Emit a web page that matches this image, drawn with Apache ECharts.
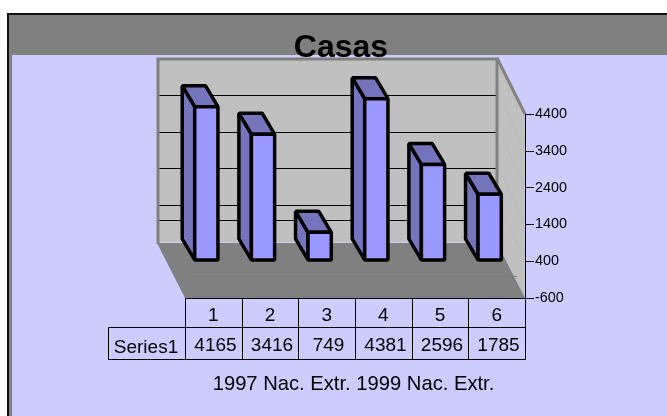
<!DOCTYPE html>
<html>
<head>
<meta charset="utf-8">
<style>html,body{margin:0;padding:0;background:#fff}#c{width:667px;height:416px}</style>
<script src="https://cdn.jsdelivr.net/npm/echarts@6/dist/echarts.min.js"></script>
</head>
<body>
<div id="c"></div>
<script>
const titleText = 'Casas';
const seriesName = 'Series1';
const categories = ['1', '2', '3', '4', '5', '6'];
const values = [4165, 3416, 749, 4381, 2596, 1785];
const tickValues = [-600, 400, 1400, 2400, 3400, 4400];
const wallLineValues = [0, 400, 1400, 2400, 3400];
const footerText = '1997 Nac. Extr. 1999 Nac. Extr.';

const FONT = '"Liberation Sans", Arial, sans-serif';
const DEPTH = [-28, -56];
const BAR_FRONT = [-7, -16];
const BAR_BACK = [-12.5, -21];
const ROW1 = 29, ROW2 = 32, LABEL_W = 77;

const chart = echarts.init(document.getElementById('c'), null, { renderer: 'canvas' });

function poly(points, fill, stroke, lw) {
  return { type: 'polygon', shape: { points },
    style: { fill: fill, stroke: stroke, lineWidth: lw, lineJoin: 'bevel' } };
}
function seg(x1, y1, x2, y2, color, lw) {
  return { type: 'line', shape: { x1, y1, x2, y2 }, style: { stroke: color, lineWidth: lw } };
}

function renderWalls(params, api) {
  if (params.dataIndex !== 0) return null;
  const r = params.coordSys;
  const L = r.x, R = r.x + r.width, T = r.y, B = r.y + r.height;
  const dx = DEPTH[0], dy = DEPTH[1];
  const kids = [];
  kids.push(poly([[L + dx, T + dy], [R + dx, T + dy], [R + dx, B + dy], [L + dx, B + dy]], '#c0c0c0', null, 0));
  kids.push(poly([[R + dx, T + dy], [R, T], [R, B], [R + dx, B + dy]], '#c0c0c0', null, 0));
  wallLineValues.forEach(v => {
    const y = api.coord([0, v])[1];
    kids.push(seg(L + dx + 2, Math.round(y + dy) + 0.5, R + dx - 1, Math.round(y + dy) + 0.5, '#000', 1));
    if (v) kids.push(seg(R + dx + 2, y + dy, R, y, '#bbbbbb', 1));
  });
  kids.push(poly([[L + dx, B + dy + 1], [R + dx, B + dy + 1], [R, B], [L, B]], '#808080', null, 0));
  const y0 = Math.round(api.coord([0, 0])[1]) + 0.5;
  kids.push(seg(L + 1, y0, R - 8, y0, '#7c7c7c', 1));
  // thick grey wall edges
  kids.push({ type: 'polyline', shape: { points: [[L + dx + 1, B + dy + 2], [L + dx + 1, T + dy + 1], [R + dx, T + dy + 1], [R + dx, B + dy]] },
    style: { stroke: '#808080', lineWidth: 3, fill: null } });
  kids.push(seg(R + dx, T + dy, R, T, '#808080', 3));
  return { type: 'group', children: kids };
}

function renderBar(params, api) {
  const i = api.value(0), v = api.value(1);
  const base = api.coord([i, 0]), top = api.coord([i, v]);
  const w = api.size([1, 0])[0] * 0.41;
  const xl = base[0] - w / 2 + BAR_FRONT[0], xr = xl + w;
  const yt = top[1] + BAR_FRONT[1], yb = base[1] + BAR_FRONT[1];
  const bx = BAR_BACK[0], by = BAR_BACK[1];
  return { type: 'group', children: [
    poly([[xl, yt], [xl, yb], [xl + bx, yb + by], [xl + bx, yt + by]], '#7575bd', '#000', 3.5),
    poly([[xl, yt], [xr, yt], [xr + bx, yt + by], [xl + bx, yt + by]], '#7575bd', '#000', 3.5),
    poly([[xl, yt], [xr, yt], [xr, yb], [xl, yb]], '#9999ff', '#000', 3.5)
  ] };
}

function cell(x, y, w, h) {
  return { type: 'rect', shape: { x: x + 0.5, y: y + 0.5, width: w, height: h },
    style: { fill: null, stroke: '#000', lineWidth: 1 } };
}
function renderTable(params, api) {
  const r = params.coordSys;
  const i = api.value(0), v = api.value(1);
  const B = Math.round(r.y + r.height);
  const w = r.width / categories.length;
  const x = Math.round(r.x + i * w), x2 = Math.round(r.x + (i + 1) * w);
  const kids = [cell(x, B, x2 - x, ROW1), cell(x, B + ROW1, x2 - x, ROW2),
    { type: 'text', style: { x: (x + x2) / 2 + 2, y: B + ROW1 + 19, text: String(v), align: 'center',
      verticalAlign: 'middle', fill: '#000', font: '19px ' + FONT } }];
  if (i === 0) {
    kids.push(cell(x - LABEL_W, B + ROW1, LABEL_W, ROW2));
    kids.push({ type: 'text', style: { x: x - LABEL_W / 2 - 0.5, y: B + ROW1 + 21, text: seriesName, align: 'center',
      verticalAlign: 'middle', fill: '#000', font: '19px ' + FONT } });
  }
  return { type: 'group', children: kids };
}

const pts = categories.map((c, i) => [i, values[i]]);

chart.setOption({
  animation: false,
  backgroundColor: '#ffffff',
  title: { text: titleText, left: 336, top: 27, textAlign: 'center', z: 20,
    textStyle: { fontFamily: FONT, fontWeight: 'bold', fontSize: 32, color: '#000' } },
  graphic: { elements: [
    { type: 'rect', z: -10, silent: true, shape: { x: 8, y: 14, width: 670, height: 420 }, style: { fill: '#808080', stroke: '#111', lineWidth: 2 } },
    { type: 'rect', z: -9, silent: true, shape: { x: 12, y: 55, width: 655, height: 361 }, style: { fill: '#ccccff' } }
  ] },
  grid: { left: 185, top: 114, width: 340, height: 184, containLabel: false },
  xAxis: {
    type: 'category', data: categories, position: 'bottom',
    axisLine: { show: false }, axisTick: { show: false }, splitLine: { show: false },
    axisLabel: { show: true, margin: 8, fontFamily: FONT, fontSize: 19, color: '#000' },
    name: footerText, nameLocation: 'middle', nameGap: 86,
    nameTextStyle: { fontFamily: FONT, fontSize: 20.2, color: '#000', verticalAlign: 'middle', padding: [0, 3, 0, 0] }
  },
  yAxis: {
    type: 'value', position: 'right', min: -600, max: 4400,
    axisLine: { show: true, onZero: false, lineStyle: { color: '#000', width: 1 } },
    axisTick: { show: true, length: 9, customValues: tickValues, lineStyle: { color: '#000', width: 1 } },
    axisLabel: { show: true, margin: 10, customValues: tickValues, formatter: v => String(v), padding: [6, 0, 0, 0], fontFamily: FONT, fontSize: 14.4, color: '#000' },
    splitLine: { show: false }
  },
  series: [
    { type: 'custom', name: 'walls', z: 1, silent: true, renderItem: renderWalls, data: pts, encode: { x: 0, y: 1 } },
    { type: 'custom', name: seriesName, z: 3, silent: true, renderItem: renderBar, data: pts, encode: { x: 0, y: 1 } },
    { type: 'custom', name: 'table', z: 4, silent: true, renderItem: renderTable, data: pts, encode: { x: 0, y: 1 } }
  ]
});
</script>
</body>
</html>
